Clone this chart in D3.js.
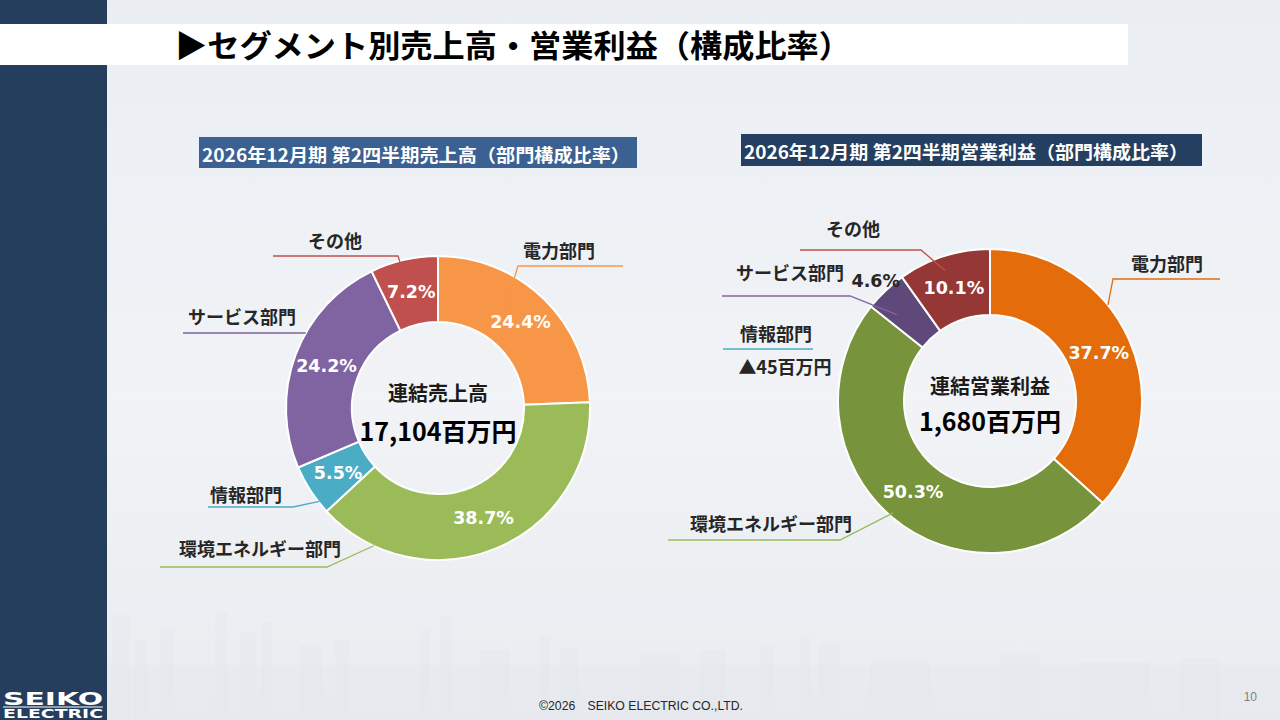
<!DOCTYPE html>
<html>
<head>
<meta charset="utf-8">
<script src="https://cdn.jsdelivr.net/npm/d3@7"></script>
<style>
  html, body { margin: 0; padding: 0; background: #eef1f5; }
  svg { display: block; font-family: "Noto Sans CJK JP", "Noto Sans", sans-serif; }
</style>
</head>
<body>
<svg id="slide" width="1280" height="720"></svg>
<script>
// ---- data ----
const salesCategories = ['電力部門', '環境エネルギー部門', '情報部門', 'サービス部門', 'その他'];
const salesShares = [24.4, 38.7, 5.5, 24.2, 7.2];
const salesTotal = 17104;

const profitCategories = ['電力部門', '環境エネルギー部門', 'サービス部門', 'その他'];
const profitShares = [37.7, 50.3, 4.6, 10.1];
const profitTotal = 1680;
const infoProfit = -45; // 情報部門 is a loss, so it is left out of the ring

const salesColors = ['#f79646', '#9bbb59', '#4bacc6', '#8064a2', '#c0504d'];
const profitColors = ['#e46c0a', '#77933c', '#5f497a', '#953735'];

const svg = d3.select('#slide');
const W = 1280, H = 720;

// background
const defs = svg.append('defs');
const bg = defs.append('linearGradient').attr('id', 'bg').attr('x1', 0).attr('y1', 0).attr('x2', 0).attr('y2', 1);
bg.append('stop').attr('offset', '0%').attr('stop-color', '#eaeef3');
bg.append('stop').attr('offset', '55%').attr('stop-color', '#f1f3f6');
bg.append('stop').attr('offset', '100%').attr('stop-color', '#e9ecf0');
svg.append('rect').attr('width', W).attr('height', H).attr('fill', 'url(#bg)');

// faint skyline behind the footer (decoration only)
const skyline = [[112, 18, 615], [135, 12, 640], [160, 14, 628], [215, 12, 612], [240, 16, 632], [262, 10, 622],
  [300, 22, 645], [335, 14, 640], [420, 10, 630], [440, 12, 617], [480, 30, 650], [540, 10, 636], [560, 18, 648],
  [640, 40, 655], [700, 26, 650], [760, 14, 645], [800, 10, 636], [818, 22, 643], [870, 60, 660], [1000, 40, 655],
  [1080, 70, 662], [1180, 40, 658]];
svg.append('g').selectAll('rect').data(skyline).join('rect')
  .attr('x', d => d[0]).attr('y', d => d[2]).attr('width', d => d[1]).attr('height', d => H - d[2])
  .attr('fill', '#e2e6eb').attr('opacity', 0.35);
svg.append('rect').attr('x', 107).attr('y', 665).attr('width', W - 107).attr('height', 55).attr('fill', '#e3e7ec').attr('opacity', 0.4);

// side bar + logo
svg.append('rect').attr('x', 0).attr('y', 0).attr('width', 107).attr('height', H).attr('fill', '#253e5e');
svg.append('text').attr('x', 3).attr('y', 705).attr('textLength', 100).attr('lengthAdjust', 'spacingAndGlyphs')
  .attr('font-family', 'DejaVu Sans').attr('font-weight', 'bold').attr('font-size', 18).attr('fill', '#fff').text('SEIKO');
svg.append('rect').attr('x', 3).attr('y', 706.5).attr('width', 100).attr('height', 1).attr('fill', '#fff');
svg.append('text').attr('x', 3).attr('y', 718).attr('textLength', 100).attr('lengthAdjust', 'spacingAndGlyphs')
  .attr('font-family', 'DejaVu Sans').attr('font-weight', 'bold').attr('font-size', 12).attr('fill', '#fff').text('ELECTRIC');

// title band
svg.append('rect').attr('x', 0).attr('y', 24).attr('width', 1128).attr('height', 41).attr('fill', '#fff');
svg.append('text').attr('x', 175).attr('y', 43).attr('dominant-baseline', 'central')
  .attr('textLength', 676).attr('lengthAdjust', 'spacingAndGlyphs')
  .attr('font-size', 31).attr('font-weight', 'bold').attr('fill', '#000')
  .text('▶セグメント別売上高・営業利益（構成比率）');

// footer
svg.append('text').attr('x', 539).attr('y', 706).attr('dominant-baseline', 'central')
  .attr('textLength', 204).attr('lengthAdjust', 'spacingAndGlyphs')
  .attr('font-family', 'Liberation Sans Narrow, Liberation Sans').attr('font-size', 12).attr('fill', '#262626')
  .text('©2026　SEIKO ELECTRIC CO.,LTD.');
svg.append('text').attr('x', 1257).attr('y', 697).attr('text-anchor', 'end').attr('dominant-baseline', 'central')
  .attr('font-family', 'Liberation Sans Narrow, Liberation Sans').attr('font-size', 12).attr('fill', '#7f7f7f').text('10');

const pct = v => d3.format('.1f')(v) + '%';
const rad = deg => deg * Math.PI / 180;

function donut(opt) {
  const g = svg.append('g').attr('transform', `translate(${opt.cx},${opt.cy})`);
  const rows = opt.categories.map((c, i) => ({ name: c, value: opt.shares[i], color: opt.colors[i] }));
  const pie = d3.pie().sort(null).value(d => d.value);
  const arc = d3.arc().innerRadius(86).outerRadius(152);
  const outsideArc = d3.arc().innerRadius(166).outerRadius(166);
  const arcs = pie(rows);

  g.selectAll('path.slice').data(arcs).join('path')
    .attr('class', 'slice')
    .attr('d', arc)
    .attr('fill', d => d.data.color)
    .attr('stroke', '#fff').attr('stroke-width', 2);

  g.selectAll('text.pct').data(arcs).join('text')
    .attr('class', 'pct')
    .attr('transform', d => {
      const p = opt.outside.includes(d.data.name) ? outsideArc.centroid(d) : arc.centroid(d);
      return `translate(${p})`;
    })
    .attr('text-anchor', 'middle').attr('dominant-baseline', 'central')
    .attr('font-family', 'DejaVu Sans, sans-serif').attr('font-weight', 'bold').attr('font-size', 17.5)
    .attr('fill', d => opt.outside.includes(d.data.name) ? '#262626' : '#fff')
    .text(d => pct(d.data.value));

  // centre
  g.append('text').attr('y', opt.titleY).attr('text-anchor', 'middle').attr('dominant-baseline', 'central')
    .attr('font-size', 20).attr('font-weight', 'bold').attr('fill', '#1a1a1a').text(opt.centerTitle);
  g.append('text').attr('y', opt.totalY).attr('text-anchor', 'middle').attr('dominant-baseline', 'central')
    .attr('font-size', 25).attr('font-weight', 'bold').attr('fill', '#000')
    .text(d3.format(',')(opt.total) + '百万円');

  // callouts: category name, underline, leader to the slice
  opt.callouts.forEach(c => {
    const elbowX = c.side === 'right' ? c.ux[0] : c.ux[1];
    const pts = [[c.side === 'right' ? c.ux[1] : c.ux[0], c.uy], [elbowX, c.uy]];
    if (c.target) pts.push(d3.pointRadial(rad(c.target[0]), c.target[1]));
    g.append('path').attr('d', d3.line()(pts))
      .attr('fill', 'none').attr('stroke', c.color).attr('stroke-width', 1.3);
    g.append('text').attr('x', c.tx).attr('y', c.ty)
      .attr('text-anchor', 'middle').attr('dominant-baseline', 'central')
      .attr('font-size', 18).attr('font-weight', 'bold').attr('fill', '#262626').text(c.name);
    if (c.sub) {
      g.append('text').attr('x', c.sub.x).attr('y', c.sub.y)
        .attr('text-anchor', 'middle').attr('dominant-baseline', 'central')
        .attr('font-size', 18).attr('font-weight', 'bold').attr('fill', '#262626').text(c.sub.text);
    }
  });
}

// sub titles
function subTitle(x, y, w, h, fill, label, len) {
  svg.append('rect').attr('x', x).attr('y', y).attr('width', w).attr('height', h).attr('fill', fill);
  svg.append('text').attr('x', x + 3).attr('y', y + h / 2 + 1).attr('dominant-baseline', 'central')
    .attr('textLength', len).attr('lengthAdjust', 'spacingAndGlyphs')
    .attr('font-size', 18).attr('font-weight', 'bold').attr('fill', '#fff').text(label);
}
subTitle(199, 137, 438, 31, '#3a6191', '2026年12月期 第2四半期売上高（部門構成比率）', 428);
subTitle(741, 134, 461, 32, '#243f60', '2026年12月期 第2四半期営業利益（部門構成比率）', 444);

donut({
  cx: 438, cy: 408,
  categories: salesCategories, shares: salesShares, colors: salesColors,
  outside: [],
  centerTitle: '連結売上高', total: salesTotal, titleY: -16, totalY: 22,
  callouts: [
    { name: '電力部門', color: salesColors[0], tx: 121, ty: -158, ux: [80, 185], uy: -142, side: 'right', target: [33.7, 122] },
    { name: '環境エネルギー部門', color: salesColors[1], tx: -178, ty: 140, ux: [-278, -111], uy: 159, side: 'left', target: [205, 152] },
    { name: '情報部門', color: salesColors[2], tx: -192, ty: 86, ux: [-230, -145], uy: 99, side: 'left', target: [231.8, 151] },
    { name: 'サービス部門', color: salesColors[3], tx: -196, ty: -92, ux: [-255, -133], uy: -75, side: 'left', target: [299.4, 152] },
    { name: 'その他', color: salesColors[4], tx: -103, ty: -168, ux: [-165, -40], uy: -152, side: 'left', target: [345.4, 151] }
  ]
});

donut({
  cx: 990, cy: 401,
  categories: profitCategories, shares: profitShares, colors: profitColors,
  outside: ['サービス部門'],
  centerTitle: '連結営業利益', total: profitTotal, titleY: -16, totalY: 19,
  callouts: [
    { name: '電力部門', color: '#e46c0a', tx: 177, ty: -138, ux: [123, 230], uy: -122, side: 'right', target: [50.9, 152] },
    { name: '環境エネルギー部門', color: '#9bbb59', tx: -219, ty: 122, ux: [-322, -150], uy: 139, side: 'left', target: [220.9, 148] },
    { name: 'サービス部門', color: '#8064a2', tx: -200, ty: -129, ux: [-268, -140], uy: -105, side: 'left', target: [312.8, 127] },
    { name: 'その他', color: '#c0504d', tx: -137, ty: -173, ux: [-190, -69], uy: -151, side: 'left', target: [341, 138] },
    { name: '情報部門', color: '#4bacc6', tx: -214, ty: -68, ux: [-267, -177], uy: -52, side: 'left', target: null,
      sub: { x: -205, y: -35, text: '▲' + Math.abs(infoProfit) + '百万円' } }
  ]
});
</script>
</body>
</html>
